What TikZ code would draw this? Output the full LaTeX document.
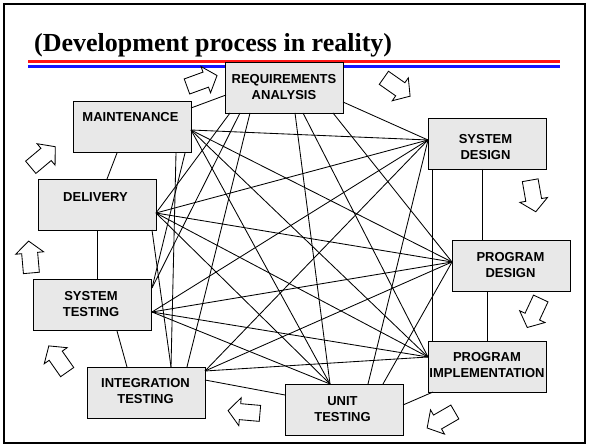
\documentclass[tikz,border=0pt]{standalone}
\usepackage{fontspec}
\setmainfont{Liberation Serif}
\setsansfont{Liberation Sans}
\definecolor{boxgray}{RGB}{232,232,232}
\definecolor{hdrred}{RGB}{255,20,20}
\definecolor{hdrblue}{RGB}{20,20,255}
\begin{document}
\begin{tikzpicture}[x=1pt,y=-1pt,
  box/.style={draw=black, line width=0.9pt, fill=boxgray, minimum width=118pt, minimum height=51pt, inner sep=0pt},
  lab/.style={font=\sffamily\bfseries\fontsize{13}{16}\selectfont, align=center, inner sep=0pt},
  conn/.style={line width=0.85pt},
  barrow/.pic={\draw[line width=0.85pt, fill=white, line join=miter] (-16,-8) -- (4,-8) -- (4,-14) -- (16,0) -- (4,14) -- (4,8) -- (-16,8) -- cycle;}
]
\useasboundingbox (0,0) rectangle (590,446);
\draw[line width=2.8pt] (4,4) rectangle (585,443);
% header
\draw[hdrred, line width=2.7pt] (28,61.3) -- (560,61.3);
\draw[hdrblue, line width=2.7pt] (28,66.3) -- (560,66.3);
\node[anchor=base west, font=\bfseries\fontsize{26}{30}\selectfont, inner sep=0pt] (title) at (34,52) {(Development process in reality)};
% boxes
\node[box] (ra) at (284.5,87.5) {};
\node[box] (maint) at (132,127) {};
\node[box] (del) at (97,204.5) {};
\node[box] (st) at (92.5,305) {};
\node[box] (it) at (146.5,392.5) {};
\node[box] (ut) at (344,409.5) {};
\node[box] (pi) at (487,366.5) {};
\node[box] (pd) at (511,266) {};
\node[box] (sd) at (487,143.5) {};
% labels
\node[lab] (ra-t) at (284,87) {REQUIREMENTS\\ANALYSIS};
\node[lab] (maint-t) at (130.5,117) {MAINTENANCE};
\node[lab] (del-t) at (95.5,197) {DELIVERY};
\node[lab] (st-t) at (91,304) {SYSTEM\\TESTING};
\node[lab] (it-t) at (145.5,391) {INTEGRATION\\TESTING};
\node[lab] (ut-t) at (342.5,409.5) {UNIT\\TESTING};
\node[lab] (pi-t) at (487,365) {PROGRAM\\IMPLEMENTATION};
\node[lab] (pd-t) at (510.5,265) {PROGRAM\\DESIGN};
\node[lab] (sd-t) at (485.5,147) {SYSTEM\\DESIGN};
% ring connectors
\draw[conn] ([shift={(59,-19)}]maint.center) -- ([shift={(-58.5,7.5)}]ra.center);
\draw[conn] ([shift={(58.5,14.5)}]ra.center) -- ([shift={(-59,-3.5)}]sd.center);
\draw[conn] ([shift={(-5,25.5)}]sd.center) -- ([shift={(-29,-26)}]pd.center);
\draw[conn] ([shift={(-24,26)}]pd.center) -- ([shift={(0,-25.5)}]pi.center);
\draw[conn] ([shift={(-54,25.5)}]pi.center) -- ([shift={(59,-4.5)}]ut.center);
\draw[conn] ([shift={(-59,-14.5)}]ut.center) -- ([shift={(58.5,-12.5)}]it.center);
\draw[conn] ([shift={(-19.5,-25.5)}]it.center) -- ([shift={(24.5,26)}]st.center);
\draw[conn] ([shift={(4.5,-26)}]st.center) -- ([shift={(0,25.5)}]del.center);
\draw[conn] ([shift={(10,-25.5)}]del.center) -- ([shift={(-15,26)}]maint.center);
% chords from requirements analysis
\draw[conn] ([shift={(-54.5,25.5)}]ra.center) -- ([shift={(59,8.5)}]del.center);
\draw[conn] ([shift={(-44.5,25.5)}]ra.center) -- ([shift={(59.5,-17)}]st.center);
\draw[conn] ([shift={(-34.5,25.5)}]ra.center) -- ([shift={(40.5,-25.5)}]it.center);
\draw[conn] ([shift={(10.5,25.5)}]ra.center) -- ([shift={(-14,-25.5)}]ut.center);
\draw[conn] ([shift={(18.5,25.5)}]ra.center) -- ([shift={(-59,-9.5)}]pi.center);
\draw[conn] ([shift={(48.5,25.5)}]ra.center) -- ([shift={(-59,-4)}]pd.center);
% chords from maintenance
\draw[conn] ([shift={(59,3)}]maint.center) -- ([shift={(-59,-3.5)}]sd.center);
\draw[conn] ([shift={(59,3)}]maint.center) -- ([shift={(-59,-4)}]pd.center);
\draw[conn] ([shift={(59,3)}]maint.center) -- ([shift={(-59,-9.5)}]pi.center);
\draw[conn] ([shift={(59,3)}]maint.center) -- ([shift={(-14,-25.5)}]ut.center);
\draw[conn] ([shift={(44,26)}]maint.center) -- ([shift={(24.5,-25.5)}]it.center);
\draw[conn] ([shift={(53,26)}]maint.center) -- ([shift={(59.5,-17)}]st.center);
% chords from delivery
\draw[conn] ([shift={(59,8.5)}]del.center) -- ([shift={(-59,-3.5)}]sd.center);
\draw[conn] ([shift={(59,8.5)}]del.center) -- ([shift={(-59,-4)}]pd.center);
\draw[conn] ([shift={(59,8.5)}]del.center) -- ([shift={(-59,-9.5)}]pi.center);
\draw[conn] ([shift={(59,8.5)}]del.center) -- ([shift={(-14,-25.5)}]ut.center);
\draw[conn] ([shift={(55,25.5)}]del.center) -- ([shift={(24.5,-25.5)}]it.center);
% chords from system testing
\draw[conn] ([shift={(59.5,7)}]st.center) -- ([shift={(-59,-3.5)}]sd.center);
\draw[conn] ([shift={(59.5,7)}]st.center) -- ([shift={(-59,-4)}]pd.center);
\draw[conn] ([shift={(59.5,7)}]st.center) -- ([shift={(-59,-9.5)}]pi.center);
\draw[conn] ([shift={(59.5,7)}]st.center) -- ([shift={(-14,-25.5)}]ut.center);
% chords from integration testing
\draw[conn] ([shift={(58.5,-21.5)}]it.center) -- ([shift={(-59,-3.5)}]sd.center);
\draw[conn] ([shift={(58.5,-21.5)}]it.center) -- ([shift={(-59,-4)}]pd.center);
\draw[conn] ([shift={(58.5,-21.5)}]it.center) -- ([shift={(-59,-9.5)}]pi.center);
% chords from unit testing
\draw[conn] ([shift={(24,-25.5)}]ut.center) -- ([shift={(-59,-3.5)}]sd.center);
\draw[conn] ([shift={(39,-25.5)}]ut.center) -- ([shift={(-59,-4)}]pd.center);
% chord program implementation - system design
\draw[conn] ([shift={(-55,-25.5)}]pi.center) -- ([shift={(-55,25.5)}]sd.center);
% block arrows
\pic[rotate=20] at (202,81) {barrow};
\pic[rotate=-35] at (397,87) {barrow};
\pic[rotate=-80] at (533,196) {barrow};
\pic[rotate=-115] at (534,313) {barrow};
\pic[rotate=-150] at (441,420) {barrow};
\pic[rotate=175] at (244,412) {barrow};
\pic[rotate=125] at (58,359) {barrow};
\pic[rotate=95] at (30,257) {barrow};
\pic[rotate=40] at (43,157) {barrow};
\end{tikzpicture}
\end{document}
